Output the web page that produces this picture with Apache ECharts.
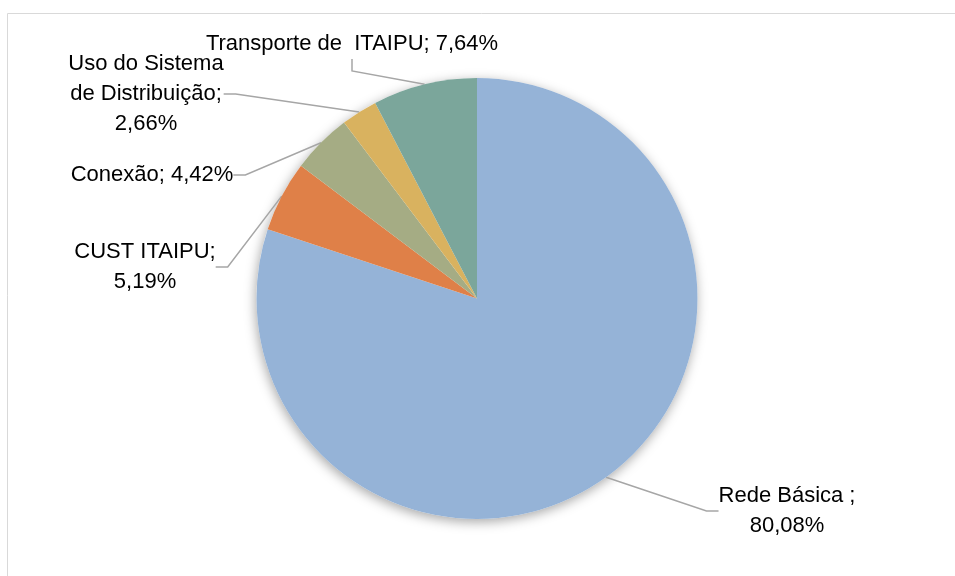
<!DOCTYPE html>
<html>
<head>
<meta charset="utf-8">
<script src="https://cdn.jsdelivr.net/npm/echarts@6/dist/echarts.min.js"></script>
<style>
  html, body { margin: 0; padding: 0; background: #fff; }
  #chart { width: 955px; height: 576px; }
</style>
</head>
<body>
<div id="chart"></div>
<script>
// fatias no sentido horário a partir do topo
var categorias = ['Rede Básica ', 'CUST ITAIPU', 'Conexão', 'Uso do Sistema\nde Distribuição', 'Transporte de  ITAIPU'];
var valores = [80.08, 5.19, 4.42, 2.66, 7.64];
var rotulos = ['Rede Básica ;\n80,08%', 'CUST ITAIPU;\n5,19%', 'Conexão; 4,42%', 'Uso do Sistema\nde Distribuição;\n2,66%', 'Transporte de  ITAIPU; 7,64%'];
var cores = ['#95B3D7', '#DF8048', '#A5AC84', '#D9B25F', '#7BA69B'];

// onde fica cada rótulo (centro do texto)
var posRotulo = [[787, 511], [145, 267], [152, 175], [146, 94], [352, 44]];

var fonte = '"Liberation Sans Narrow", "Arial Narrow", "Liberation Sans", sans-serif';

var chart = echarts.init(document.getElementById('chart'));

var dados = categorias.map(function (c, i) {
    return { name: c, value: valores[i], itemStyle: { color: cores[i] } };
});

var option = {
    animation: false,
    graphic: [{
        type: 'rect',
        shape: { x: 7.5, y: 13.5, width: 1000, height: 1000 },
        style: { fill: 'none', stroke: '#D9D9D9', lineWidth: 1 },
        silent: true,
        z: -1
    }],
    series: [{
        // só a sombra por baixo do círculo
        type: 'pie',
        center: [477, 298.5],
        radius: 220.5,
        silent: true,
        label: { show: false },
        labelLine: { show: false },
        itemStyle: {
            color: '#fff',
            shadowBlur: 12,
            shadowColor: 'rgba(0,0,0,0.35)',
            shadowOffsetX: -1,
            shadowOffsetY: 3
        },
        data: [1],
        z: 1
    }, {
        type: 'pie',
        center: [477, 298.5],
        radius: 220.5,
        startAngle: 90,
        clockwise: true,
        silent: true,
        z: 2,
        itemStyle: { borderWidth: 0 },
        label: {
            show: true,
            position: 'outside',
            formatter: function (p) { return rotulos[p.dataIndex]; },
            fontFamily: fonte,
            fontSize: 22,
            lineHeight: 30,
            color: '#000',
            align: 'center',
            overflow: 'none'
        },
        labelLine: {
            show: true,
            length: 10,
            length2: 12,
            lineStyle: { color: '#A6A6A6', width: 1.5 }
        },
        labelLayout: function (p) {
            var pos = posRotulo[p.dataIndex];
            return {
                x: pos[0],
                y: pos[1],
                align: 'center',
                verticalAlign: 'middle',
                moveOverlap: null,
                hideOverlap: false
            };
        },
        data: dados
    }]
};

chart.setOption(option);
</script>
</body>
</html>
